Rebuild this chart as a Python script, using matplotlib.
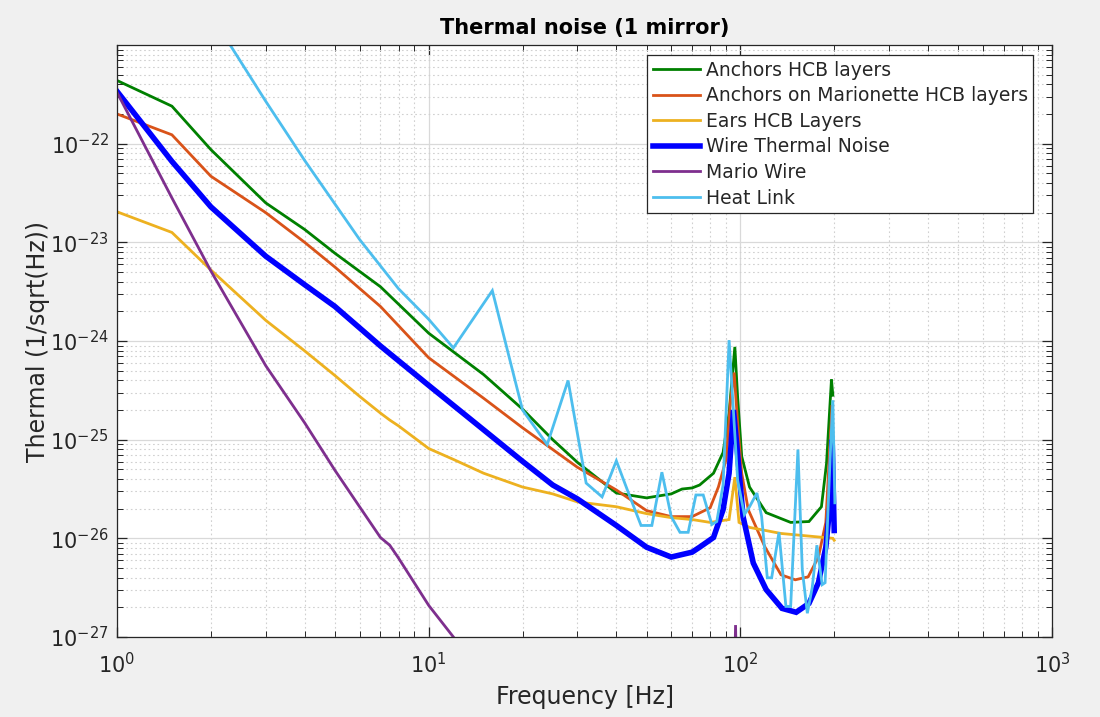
import numpy as np
import matplotlib
matplotlib.use("Agg")
import matplotlib.pyplot as plt
from matplotlib.ticker import LogLocator, NullFormatter

# values (frequency in Hz, amplitude in 1/sqrt(Hz))
anchors_f = [1, 1.5, 2, 3, 4, 5, 7, 10, 15, 20, 25, 30, 40, 50, 60, 65, 70, 74, 82, 88,
             92, 96, 98, 101, 107, 121, 145, 166, 182, 189, 196, 198]
anchors_a = [4.37e-22, 2.40e-22, 8.71e-23, 2.51e-23, 1.35e-23, 7.76e-24, 3.55e-24, 1.20e-24,
             4.57e-25, 2.04e-25, 1.00e-25, 5.89e-26, 2.88e-26, 2.57e-26, 2.82e-26, 3.16e-26,
             3.24e-26, 3.47e-26, 4.57e-26, 7.41e-26, 1.86e-25, 8.71e-25, 2.69e-25, 6.76e-26,
             3.31e-26, 1.82e-26, 1.45e-26, 1.48e-26, 2.09e-26, 5.75e-26, 4.07e-25, 2.82e-25]

mario_anch_f = [1, 1.5, 2, 3, 4, 5, 7, 10, 15, 20, 30, 40, 50, 60, 70, 80, 85, 90, 93, 95.5,
                98, 101, 106, 120, 135, 150, 165, 178, 188, 195, 197, 200]
mario_anch_a = [2.00e-22, 1.23e-22, 4.68e-23, 2.00e-23, 1.00e-23, 5.62e-24, 2.24e-24, 6.76e-25,
                2.63e-25, 1.32e-25, 5.25e-26, 3.09e-26, 1.91e-26, 1.66e-26, 1.66e-26, 2.04e-26,
                3.31e-26, 6.31e-26, 2.51e-25, 4.79e-25, 1.48e-25, 4.57e-26, 1.95e-26, 8.13e-27,
                4.27e-27, 3.80e-27, 4.07e-27, 6.46e-27, 1.45e-26, 1.26e-25, 2.24e-25, 2.00e-26]

ears_f = [1, 1.5, 2, 3, 4, 5, 6, 7, 7.5, 8, 10, 12, 15, 20, 25, 30, 40, 50, 60, 70, 80,
          92, 96, 99, 107, 135, 198, 200]
ears_a = [2.04e-23, 1.26e-23, 5.25e-24, 1.62e-24, 7.94e-25, 4.47e-25, 2.75e-25, 1.86e-25,
          1.58e-25, 1.38e-25, 8.13e-26, 6.31e-26, 4.57e-26, 3.31e-26, 2.82e-26, 2.34e-26,
          2.09e-26, 1.78e-26, 1.62e-26, 1.55e-26, 1.45e-26, 1.55e-26, 4.17e-26, 1.45e-26,
          1.29e-26, 1.12e-26, 1.00e-26, 9.55e-27]

wire_f = [1, 1.5, 2, 3, 4, 5, 7, 10, 15, 20, 25, 30, 40, 50, 60, 70, 74, 82, 88, 92, 95,
          97.5, 102, 110, 121, 136, 151, 166, 178, 188, 195, 197, 200]
wire_a = [3.39e-22, 6.61e-23, 2.29e-23, 7.24e-24, 3.72e-24, 2.24e-24, 8.91e-25, 3.55e-25,
          1.26e-25, 6.03e-26, 3.47e-26, 2.51e-26, 1.35e-26, 8.13e-27, 6.46e-27, 7.24e-27,
          8.13e-27, 1.02e-26, 1.95e-26, 4.57e-26, 2.00e-25, 8.51e-26, 1.66e-26, 5.62e-27,
          3.02e-27, 1.95e-27, 1.78e-27, 2.19e-27, 3.55e-27, 8.13e-27, 2.63e-26, 1.00e-25,
          1.20e-26]

mario_wire_f = [1, 1.5, 2, 3, 4, 5, 6, 7, 7.5, 8, 10, 12, 15, 20, 30, 50, 80, 92, 95, 96.5,
                98, 101, 120, 200]
mario_wire_a = [3.31e-22, 2.82e-23, 5.13e-24, 5.62e-25, 1.48e-25, 4.90e-26, 2.09e-26, 1.02e-26,
                8.51e-27, 6.31e-27, 2.09e-27, 1.00e-27, 3.55e-28, 1.0e-28, 2.0e-29, 3.16e-30,
                1.0e-30, 1.0e-29, 1.0e-28, 1.32e-27, 1.0e-28, 1.0e-29, 1.0e-30, 3.16e-31]

heat_f = [2, 3, 4, 6, 8, 10, 12, 16, 20, 24, 28, 32, 36, 40, 44, 48, 52, 56, 60, 64, 68, 72,
          76, 81, 84, 88, 92, 98, 103, 107, 113, 117, 122, 126, 133, 140, 145, 153, 158, 164,
          170, 176, 183, 187, 194, 198, 201]
heat_a = [2.04e-21, 2.69e-22, 6.76e-23, 1.07e-23, 3.39e-24, 1.66e-24, 8.51e-25, 3.24e-24,
          2.00e-25, 8.91e-26, 3.98e-25, 3.63e-26, 2.63e-26, 6.10e-26, 2.75e-26, 1.35e-26,
          1.35e-26, 4.68e-26, 1.66e-26, 1.15e-26, 1.15e-26, 2.75e-26, 2.75e-26, 1.38e-26,
          1.48e-26, 3.47e-26, 1.02e-24, 3.89e-26, 1.74e-26, 2.09e-26, 2.88e-26, 1.66e-26,
          3.98e-27, 3.98e-27, 1.15e-26, 2.04e-27, 2.04e-27, 7.94e-26, 4.79e-27, 1.74e-27,
          3.16e-27, 8.51e-27, 3.39e-27, 3.55e-27, 6.31e-26, 2.51e-25, 2.29e-26]

series = [
    ("Anchors HCB layers", anchors_f, anchors_a, "#008000", 2.0),
    ("Anchors on Marionette HCB layers", mario_anch_f, mario_anch_a, "#D95319", 2.0),
    ("Ears HCB Layers", ears_f, ears_a, "#EDB120", 2.0),
    ("Wire Thermal Noise", wire_f, wire_a, "#0000FF", 4.0),
    ("Mario Wire", mario_wire_f, mario_wire_a, "#7E2F8E", 2.0),
    ("Heat Link", heat_f, heat_a, "#4DBEEE", 2.0),
]

ink = "#262626"
plt.rcParams["font.family"] = ["DejaVu Sans"]

fig = plt.figure(figsize=(11, 7.17), dpi=100, facecolor="#f0f0f0")
ax = fig.add_axes([0.1064, 0.1116, 0.8500, 0.8256])
ax.set_facecolor("white")

for label, f, a, color, lw in series:
    ax.loglog(f, a, color=color, lw=lw, label=label, solid_joinstyle="miter")

ax.set_xlim(1, 1000)
ax.set_ylim(1e-27, 1e-21)
ax.set_yticks([1e-27, 1e-26, 1e-25, 1e-24, 1e-23, 1e-22])
ax.yaxis.set_minor_locator(LogLocator(base=10, subs=np.arange(2, 10), numticks=20))
ax.xaxis.set_minor_locator(LogLocator(base=10, subs=np.arange(2, 10), numticks=20))
ax.xaxis.set_minor_formatter(NullFormatter())
ax.yaxis.set_minor_formatter(NullFormatter())

ax.grid(True, which="major", color="#d9d9d9", lw=0.9, ls="-")
ax.grid(True, which="minor", color="#d0d0d0", lw=0.8, ls=(0, (1.5, 2.5)))
ax.set_axisbelow(True)

ax.tick_params(which="both", direction="in", top=True, right=True, colors=ink,
               labelsize=15, labelcolor=ink)
ax.tick_params(which="major", length=7, width=0.9)
ax.tick_params(which="minor", length=4, width=0.7)
ax.tick_params(axis="x", which="major", pad=11)
ax.tick_params(axis="y", which="major", pad=6)
for sp in ax.spines.values():
    sp.set_color(ink)
    sp.set_linewidth(0.9)

ax.set_xlabel("Frequency [Hz]", fontsize=17, color=ink, va="center")
ax.set_ylabel("Thermal (1/sqrt(Hz))", fontsize=17, color=ink, va="center")
ax.xaxis.set_label_coords(0.5, -0.101)
ax.yaxis.set_label_coords(-0.085, 0.5)
ax.set_title("Thermal noise (1 mirror)", fontsize=15, fontweight="bold", color="black", pad=8)

leg = ax.legend(loc="upper right", bbox_to_anchor=(0.98, 0.983), borderaxespad=0,
                fontsize=13.5, frameon=True, fancybox=False, framealpha=1,
                edgecolor=ink, handlelength=2.5, handletextpad=0.3,
                labelspacing=0.35, borderpad=0.3)
leg.get_frame().set_linewidth(0.9)
for t in leg.get_texts():
    t.set_color(ink)

fig.savefig("out.png", dpi=100, facecolor=fig.get_facecolor())
